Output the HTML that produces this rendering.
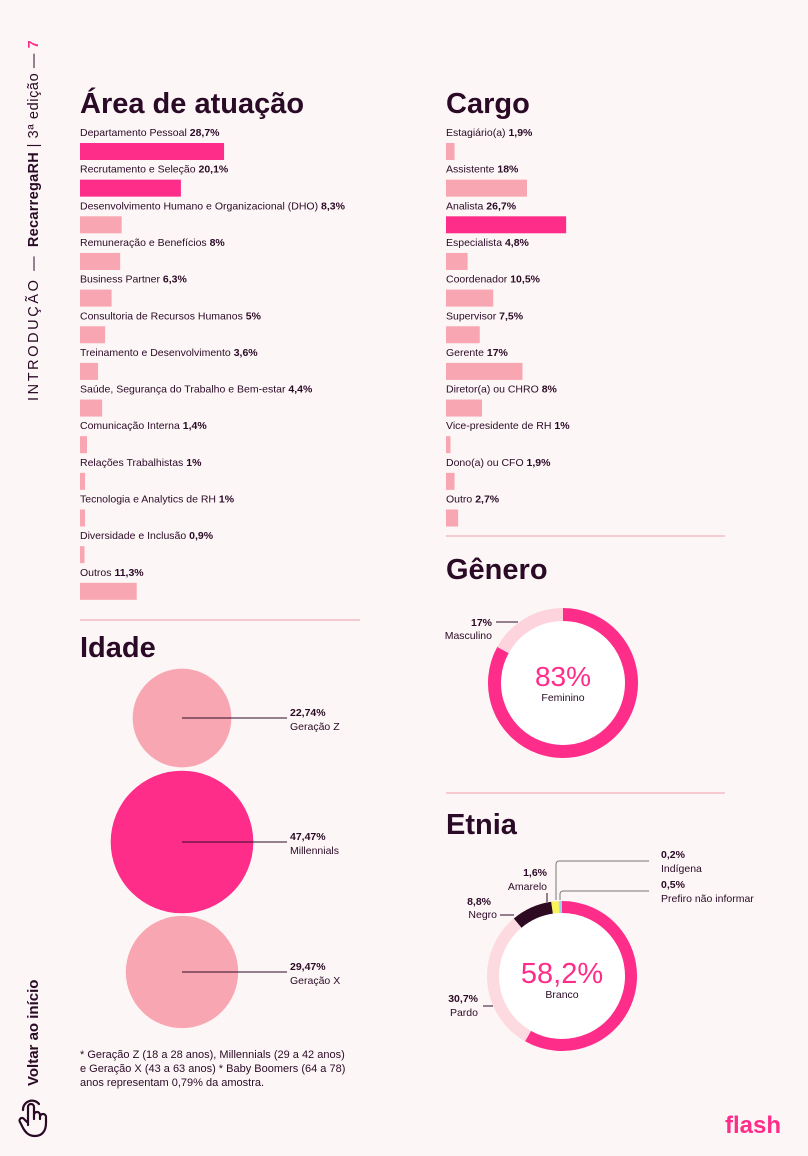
<!DOCTYPE html>
<html><head><meta charset="utf-8"><style>
html,body{margin:0;padding:0;background:#fdf6f6;}
body{width:808px;height:1156px;position:relative;overflow:hidden;font-family:"Liberation Sans",sans-serif;color:#2a0a26;}
svg{position:absolute;left:0;top:0;}
</style></head><body>
<svg id="s" width="808" height="1156" viewBox="0 0 808 1156" font-family="Liberation Sans, sans-serif">
  <g transform="translate(38,401) rotate(-90)">
    <text x="0" y="0" font-size="14.5" fill="#2a0a26" letter-spacing="2.6">INTRODUÇÃO — <tspan font-weight="bold" letter-spacing="0.3">RecarregaRH</tspan><tspan letter-spacing="0.6"> | 3ª edição — </tspan><tspan fill="#ff2d8a" font-weight="bold" letter-spacing="0">7</tspan></text>
  </g>
  <g transform="translate(38,1086) rotate(-90)">
    <text x="0" y="0" font-size="15" font-weight="bold" fill="#2a0a26">Voltar ao início</text>
  </g>
  <g fill="none" stroke="#2a0a26" stroke-width="2.2" stroke-linecap="round">
    <path d="M28 1125 v-18 a3 3 0 0 1 6 0 v12 M34 1115 a3 3 0 0 1 6 0 v4 M40 1117 a3 3 0 0 1 6 0 v6 c0 8 -4 13 -11 13 c-6 0 -9 -3 -12 -8 l-3 -6 a2.5 2.5 0 0 1 4 -3 l3 3"/>
    <path d="M23 1110 a9 9 0 0 1 16 -6"/>
  </g>
  <text x="725" y="1133" font-size="24" font-weight="bold" fill="#ff2d8a">flash</text>

  <text x="80" y="113" font-size="29" font-weight="bold" fill="#2a0a26">Área de atuação</text>
  <g id="area"></g>
  <line x1="80" y1="620" x2="360" y2="620" stroke="#f4a0b0" stroke-width="1"/>

  <text x="446" y="113" font-size="29" font-weight="bold" fill="#2a0a26">Cargo</text>
  <g id="cargo"></g>
  <line x1="446" y1="536" x2="725" y2="536" stroke="#f4a0b0" stroke-width="1"/>

  <text x="80" y="657" font-size="29" font-weight="bold" fill="#2a0a26">Idade</text>
  <g id="idade"></g>
  <text font-size="11" fill="#2a0a26">
    <tspan x="80" y="1058">* Geração Z (18 a 28 anos), Millennials (29 a 42 anos)</tspan>
    <tspan x="80" y="1072">e Geração X (43 a 63 anos) * Baby Boomers (64 a 78)</tspan>
    <tspan x="80" y="1086">anos representam 0,79% da amostra.</tspan>
  </text>

  <text x="446" y="579" font-size="29" font-weight="bold" fill="#2a0a26">Gênero</text>
  <g id="genero"></g>
  <line x1="446" y1="793" x2="725" y2="793" stroke="#f4a0b0" stroke-width="1"/>

  <text x="446" y="834" font-size="29" font-weight="bold" fill="#2a0a26">Etnia</text>
  <g id="etnia"></g>
</svg>
<script>
const areaLabels=["Departamento Pessoal","Recrutamento e Seleção","Desenvolvimento Humano e Organizacional (DHO)","Remuneração e Benefícios","Business Partner","Consultoria de Recursos Humanos","Treinamento e Desenvolvimento","Saúde, Segurança do Trabalho e Bem-estar","Comunicação Interna","Relações Trabalhistas","Tecnologia e Analytics de RH","Diversidade e Inclusão ","Outros"];
const areaValues=[28.7,20.1,8.3,8,6.3,5,3.6,4.4,1.4,1,1,0.9,11.3];
const areaText=["28,7%","20,1%","8,3%","8%","6,3%","5%","3,6%","4,4%","1,4%","1%","1%","0,9%","11,3%"];
const cargoLabels=["Estagiário(a)","Assistente","Analista","Especialista","Coordenador","Supervisor","Gerente","Diretor(a) ou CHRO","Vice-presidente de RH","Dono(a) ou CFO","Outro"];
const cargoValues=[1.9,18,26.7,4.8,10.5,7.5,17,8,1,1.9,2.7];
const cargoText=["1,9%","18%","26,7%","4,8%","10,5%","7,5%","17%","8%","1%","1,9%","2,7%"];
const idadeLabels=["Geração Z","Millennials","Geração X"];
const idadeValues=[22.74,47.47,29.47];
const idadeText=["22,74%","47,47%","29,47%"];
const generoLabels=["Feminino","Masculino"];
const generoValues=[83,17];
const etniaLabels=["Branco","Pardo","Negro","Amarelo","Indígena","Prefiro não informar"];
const etniaValues=[58.2,30.7,8.8,1.6,0.2,0.5];
const etniaText=["58,2%","30,7%","8,8%","1,6%","0,2%","0,5%"];

const NS="http://www.w3.org/2000/svg";
function mk(tag,attrs,parent){const e=document.createElementNS(NS,tag);for(const k in attrs)e.setAttribute(k,attrs[k]);parent.appendChild(e);return e;}
const PINK="#ff2d8a",LIGHT="#f9a6b3";

function bars(gid,x0,y0,step,scale,labels,vals,txt,hot,prefix){
  const g=document.getElementById(gid);
  labels.forEach((l,i)=>{
    const y=y0+i*step;
    const t=mk("text",{x:x0,y:y+4,"font-size":"10.5",fill:"#2a0a26"},g);
    
    
    t.textContent=l+" ";
    const b=mk("tspan",{"font-weight":"bold"},t);b.textContent=txt[i];
    const r=mk("rect",{x:x0,y:y+11,width:Math.max(vals[i]*scale,0),height:17,fill:hot.includes(i)?PINK:LIGHT},g);
    
    
  });
}
bars("area",80,132,36.65,5.02,areaLabels,areaValues,areaText,[0,1],"area");
bars("cargo",446,132,36.65,4.5,cargoLabels,cargoValues,cargoText,[2],"cargo");

(function(){
  const g=document.getElementById("idade");
  const cy=[718,842,972],cx=182,k=10.35;
  idadeValues.forEach((v,i)=>{
    const r=k*Math.sqrt(v);
    const c=mk("circle",{cx:cx,cy:cy[i],r:r,fill:i===1?PINK:LIGHT},g);
    
    
    mk("line",{x1:cx,y1:cy[i],x2:287,y2:cy[i],stroke:"#2a0a26","stroke-width":"1"},g);
    const t1=mk("text",{x:290,y:cy[i]-2,"font-size":"10.5","font-weight":"bold",fill:"#2a0a26"},g);
    
    
    t1.textContent=idadeText[i];
    const t2=mk("text",{x:290,y:cy[i]+12,"font-size":"10.5",fill:"#2a0a26"},g);
    
    
    t2.textContent=idadeLabels[i];
  });
})();

function arc(cx,cy,r,a0,a1){
  const p=a=>[cx+r*Math.sin(a*2*Math.PI),cy-r*Math.cos(a*2*Math.PI)];
  const [x0,y0]=p(a0),[x1,y1]=p(a1);
  return `M${x0} ${y0} A${r} ${r} 0 ${a1-a0>0.5?1:0} 1 ${x1} ${y1}`;
}
function donut(gid,cx,cy,r,w,vals,cols,prefix){
  const g=document.getElementById(gid);
  mk("circle",{cx:cx,cy:cy,r:r-w/2,fill:"#ffffff"},g);
  const tot=vals.reduce((a,b)=>a+b,0);let a=0;
  vals.forEach((v,i)=>{
    const f=v/tot;
    const p=mk("path",{d:arc(cx,cy,r-w/2,a,a+f-0.00001),fill:"none",stroke:cols[i],"stroke-width":w},g);
    
    
    a+=f;
  });
  return g;
}
function txt(g,x,y,s,size,bold,fill,anchor,name){
  const t=mk("text",{x:x,y:y,"font-size":size,fill:fill||"#2a0a26","text-anchor":anchor||"start"},g);
  if(bold)t.setAttribute("font-weight","bold");
  
  
  t.textContent=s;return t;
}
(function(){
  const g=donut("genero",563,683,75,13,generoValues,[PINK,"#fdd3dd"],"genero");
  txt(g,563,686,generoValues[0]+"%",28,false,PINK,"middle","genero-main-value");
  txt(g,563,701,generoLabels[0],10.5,false,null,"middle","genero-main-label");
  txt(g,492,626,generoValues[1]+"%",10.5,true,null,"end","genero-masc-value");
  txt(g,492,639,generoLabels[1],10.5,false,null,"end","genero-masc-label");
  mk("line",{x1:496,y1:622,x2:518,y2:622,stroke:"#2a0a26","stroke-width":"1"},g);
})();
(function(){
  const g=donut("etnia",562,976,75,12,etniaValues,[PINK,"#fdd9e0","#2d0a22","#f8f45a","#cfc6ca","#8fd8f0"],"etnia");
  txt(g,562,983,etniaText[0],29,false,PINK,"middle","etnia-main-value");
  txt(g,562,998,etniaLabels[0],10.5,false,null,"middle","etnia-main-label");
  txt(g,478,1002,etniaText[1],10.5,true,null,"end","etnia-pardo-value");
  txt(g,478,1016,etniaLabels[1],10.5,false,null,"end","etnia-pardo-label");
  mk("line",{x1:483,y1:1006,x2:493,y2:1006,stroke:"#2a0a26","stroke-width":"1"},g);
  txt(g,491,905,etniaText[2],10.5,true,null,"end","etnia-negro-value");
  txt(g,497,918,etniaLabels[2],10.5,false,null,"end","etnia-negro-label");
  mk("line",{x1:500,y1:915,x2:514,y2:915,stroke:"#2a0a26","stroke-width":"1"},g);
  txt(g,547,876,etniaText[3],10.5,true,null,"end","etnia-amarelo-value");
  txt(g,547,890,etniaLabels[3],10.5,false,null,"end","etnia-amarelo-label");
  mk("line",{x1:547,y1:893,x2:547,y2:902,stroke:"#2a0a26","stroke-width":"1"},g);
  mk("path",{d:"M556 900 V864 a3 3 0 0 1 3 -3 H649",fill:"none",stroke:"#777","stroke-width":"1"},g);
  mk("path",{d:"M560 900 V894 a3 3 0 0 1 3 -3 H649",fill:"none",stroke:"#777","stroke-width":"1"},g);
  txt(g,661,858,etniaText[4],10.5,true,null,"start","etnia-indigena-value");
  txt(g,661,872,"Indígena",10.5,false,null,"start","etnia-indigena-label");
  txt(g,661,888,etniaText[5],10.5,true,null,"start","etnia-prefiro-value");
  txt(g,661,902,etniaLabels[5],10.5,false,null,"start","etnia-prefiro-label");
})();
</script>
</body></html>
